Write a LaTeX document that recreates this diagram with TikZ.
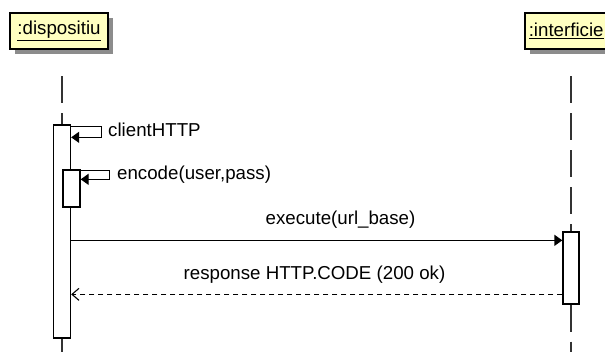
\documentclass[tikz,border=0pt]{standalone}
\usepackage{fontspec}
\setmainfont{Liberation Sans}
\usetikzlibrary{arrows.meta,shadows}
\definecolor{objfill}{RGB}{255,255,192}
\tikzset{
  obj/.style={draw,line width=1.5pt,fill=objfill,inner sep=0pt,minimum height=36pt,
    general shadow={fill=black!45,shadow xshift=5pt,shadow yshift=-5pt}},
  act/.style={draw,line width=1.3pt,fill=white,minimum width=17pt},
  life/.style={line width=1.3pt,black!80,dash pattern=on 27pt off 10pt},
  call/.style={line width=1.3pt,-{Triangle[length=8pt,width=11pt]}},
  reply/.style={line width=1.1pt,dash pattern=on 5pt off 4pt,-{Straight Barb[length=7pt,width=12pt]}},
  lbl/.style={inner sep=0pt}
}
\begin{document}
\begin{tikzpicture}[x=1pt,y=-1pt,font=\fontsize{18.7}{22}\selectfont]
\useasboundingbox (0,0) rectangle (605,352);
%% objects
\node[obj,minimum width=98pt] (dev) at (59,31) {\underline{:dispositiu}};
\node[obj,inner xsep=4pt,anchor=west] (inter) at (524,31) {\underline{:interficie}};
%% activations
\node[act,minimum height=213pt] (a1) at (62,231.5) {};
\node[act,minimum height=37pt] (a2) at (71.5,188.5) {};
\node[act,minimum width=16pt,minimum height=72pt] (a3) at (571,268) {};
%% lifelines
\draw[life] (a1.north) ++(0,-48) -- (a1.north);
\draw[life] (a1.south) -- ++(0,20);
\draw[life] (a3.north) ++(0,-155) -- (a3.north);
\draw[life] (a3.south) -- ++(0,60);
%% self calls
\draw[call] ([yshift=-2pt]a1.north east) -- ++(30,0) |- ([yshift=-13pt]a1.north east);
\node[lbl,anchor=base west] (lclient) at (108,137) {clientHTTP};
\draw[call] ([yshift=-1pt]a2.north east) -- ++(29,0) |- ([yshift=-10pt]a2.north east);
\node[lbl,anchor=base west] (lencode) at (117,180) {encode(user,pass)};
%% messages
\coordinate (in) at ([yshift=-9pt]a3.north west);
\draw[call] (a1.east |- in) -- (in);
\node[lbl,anchor=base] (lexec) at (340.5,225) {execute(url\_base)};
\coordinate (out) at ([yshift=-63pt]a3.north west);
\draw[reply] (out) -- (a1.east |- out);
\node[lbl,anchor=base] (lresp) at (314.5,280) {response HTTP.CODE (200 ok)};
\end{tikzpicture}
\end{document}
